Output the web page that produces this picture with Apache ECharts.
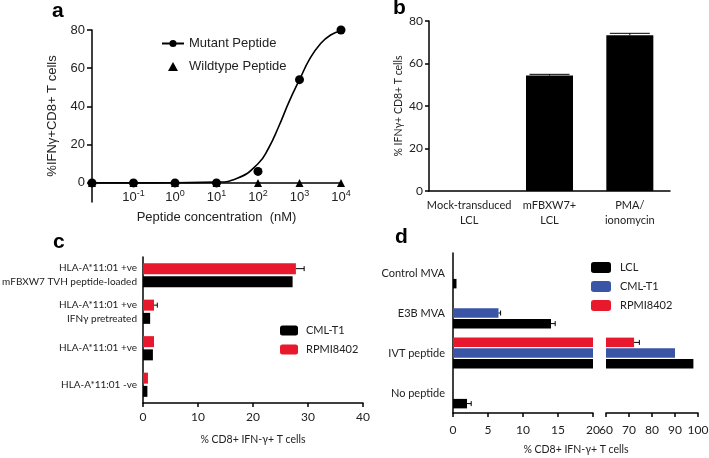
<!DOCTYPE html>
<html>
<head>
<meta charset="utf-8">
<script src="https://cdn.jsdelivr.net/npm/echarts@6/dist/echarts.min.js"></script>
<style>
  html, body { margin: 0; padding: 0; background: #fff; }
  #chart { width: 709px; height: 458px; }
</style>
</head>
<body>
<div id="chart"></div>
<script>
// ---- panel a: dose response ----
const aConc = [0.01, 0.1, 1, 10, 100, 1000, 10000];
const aMutant = [0, 0, 0, 0, 6, 54, 80];
const aWildtype = [0, 0, 0, 0, 0, 0, 0];
// fitted curve
const aFitConc = [0.01, 0.1, 1, 10, 31.6, 100, 178, 316, 562, 1000, 1778, 3162, 5623, 10000];
const aFitValue = [0, 0, 0.1, 0.4, 2.4, 10, 18, 29.5, 42.5, 54, 65, 72.7, 77.4, 79.5];

// ---- panel b ----
const bCats = ['Mock-transduced\nLCL', 'mFBXW7+\nLCL', 'PMA/\nionomycin'];
const bValues = [0, 54.3, 73.3];
const bErr = [0, 0.6, 0.9];

// ---- panel c (bottom to top) ----
const cCats = ['HLA-A*11:01 -ve', 'HLA-A*11:01 +ve', 'HLA-A*11:01 +ve\nIFNγ pretreated', 'HLA-A*11:01 +ve\nmFBXW7 TVH peptide-loaded'];
const cCML = [0.8, 1.8, 1.3, 27.2];
const cRPMI = [0.9, 2.0, 2.0, 27.8];
const cRPMIErr = [0, 0, 0.6, 1.5];

// ---- panel d (bottom to top) ----
const dCats = ['No peptide', 'IVT peptide', 'E3B MVA', 'Control MVA'];
const dLCL = [2.0, 98, 14, 0.5];
const dCML = [0, 90, 6.5, 0];
const dRPMI = [0, 72.2, 0, 0];
const dLCLErr = [0.6, 0, 0.6, 0];
const dCMLErr = [0, 0, 0.3, 0];
const dRPMIErr = [0, 2.3, 0, 0];

const RED = '#e8192c';
const BLUE = '#3a55a6';
const ARIAL = '"Liberation Sans", Arial, sans-serif';
const CALI = 'Lato, "Open Sans", sans-serif';

const chart = echarts.init(document.getElementById('chart'));

const lineStyle = { color: '#000', width: 1.5 };

function errData(vals, errs) {
  const out = [];
  vals.forEach((v, i) => { if (errs[i] > 0) out.push([i, v, v + errs[i]]); });
  return out;
}

// horizontal error bar, offset = shift from category centre
function hErrorBar(offset, cap) {
  return function (params, api) {
    const s = api.coord([api.value(1), api.value(0)]);
    const e = api.coord([api.value(2), api.value(0)]);
    const y = s[1] + offset;
    const st = { stroke: '#000', lineWidth: 1 };
    return {
      type: 'group',
      children: [
        { type: 'line', shape: { x1: s[0], y1: y, x2: e[0], y2: y }, style: st },
        { type: 'line', shape: { x1: e[0], y1: y - cap, x2: e[0], y2: y + cap }, style: st }
      ]
    };
  };
}

function vErrorBar(cap) {
  return function (params, api) {
    const s = api.coord([api.value(0), api.value(1)]);
    const e = api.coord([api.value(0), api.value(2)]);
    const st = { stroke: '#000', lineWidth: 1 };
    return {
      type: 'group',
      children: [
        { type: 'line', shape: { x1: s[0], y1: s[1], x2: e[0], y2: e[1] }, style: st },
        { type: 'line', shape: { x1: e[0] - cap, y1: e[1], x2: e[0] + cap, y2: e[1] }, style: st }
      ]
    };
  };
}

const option = {
  animation: false,
  backgroundColor: '#fff',
  graphic: [
    { type: 'text', left: 52, top: 1, style: { text: 'a', font: 'bold 21px ' + ARIAL, fill: '#000' } },
    { type: 'text', left: 393, top: -2, style: { text: 'b', font: 'bold 21px ' + ARIAL, fill: '#000' } },
    { type: 'text', left: 53, top: 232, style: { text: 'c', font: 'bold 21px ' + ARIAL, fill: '#000' } },
    { type: 'text', left: 395, top: 227, style: { text: 'd', font: 'bold 21px ' + ARIAL, fill: '#000' } },
    { type: 'text', x: 576, y: 450, style: { text: '% CD8+ IFN-γ+ T cells', font: '10.5px ' + CALI, fill: '#222', align: 'center', verticalAlign: 'middle' } }
  ],
  legend: [
    {
      left: 161, top: 37, padding: 0, orient: 'vertical', itemWidth: 22, itemHeight: 9, itemGap: 10,
      data: [
        { name: 'Mutant Peptide' },
        { name: 'Wildtype Peptide', icon: 'path://M5,0 L10,9 L0,9 Z' }
      ],
      textStyle: { fontFamily: ARIAL, fontSize: 13, color: '#222' }
    },
    {
      left: 280, top: 325, padding: 0, orient: 'vertical', itemWidth: 18, itemHeight: 10, itemGap: 8, icon: 'roundRect',
      data: [
        { name: 'CML-T1', itemStyle: { color: '#000' } },
        { name: 'RPMI8402', itemStyle: { color: RED } }
      ],
      textStyle: { fontFamily: CALI, fontSize: 11, color: '#222', padding: [0, 0, 0, 3] }
    },
    {
      left: 591, top: 262, padding: 0, orient: 'vertical', itemWidth: 20, itemHeight: 11, itemGap: 8, icon: 'roundRect',
      data: [
        { name: 'LCL', itemStyle: { color: '#000' } },
        { name: 'CML-T1', itemStyle: { color: BLUE } },
        { name: 'RPMI8402', itemStyle: { color: RED } }
      ],
      textStyle: { fontFamily: CALI, fontSize: 11, color: '#222', padding: [0, 0, 0, 4] }
    }
  ],
  grid: [
    { left: 92, top: 30, width: 249, height: 172, outerBoundsMode: 'none' },
    { left: 429, top: 21, width: 241, height: 170, outerBoundsMode: 'none' },
    { left: 143, top: 257, width: 220, height: 146, outerBoundsMode: 'none' },
    { left: 453, top: 253, width: 140, height: 160, outerBoundsMode: 'none' },
    { left: 606, top: 253, width: 92, height: 160, outerBoundsMode: 'none' }
  ],
  xAxis: [
    {
      gridIndex: 0, type: 'log', logBase: 10, min: 0.01, max: 10000,
      axisLine: { onZero: true, lineStyle },
      axisTick: { lineStyle, length: 4 },
      splitLine: { show: false },
      axisLabel: {
        margin: -13, color: '#222', fontFamily: ARIAL, fontSize: 13, lineHeight: 16,
        formatter: v => {
          const e = Math.round(Math.log10(v));
          return e === -2 ? '' : '10{s|' + e + '}';
        },
        rich: { s: { fontFamily: ARIAL, fontSize: 9, lineHeight: 9, verticalAlign: 'top' } }
      },
      name: 'Peptide concentration  (nM)', nameLocation: 'middle', nameGap: 9, nameMoveOverlap: false,
      nameTextStyle: { fontFamily: ARIAL, fontSize: 13, color: '#222' }
    },
    {
      gridIndex: 1, type: 'category', data: bCats,
      axisLine: { lineStyle }, axisTick: { alignWithLabel: true, lineStyle, length: 4 },
      axisLabel: { interval: 0, margin: 7, color: '#222', fontFamily: CALI, fontSize: 11, lineHeight: 15 }
    },
    {
      gridIndex: 2, type: 'value', min: 0, max: 40, interval: 10,
      axisLine: { show: true, lineStyle }, axisTick: { show: true, lineStyle, length: 4 },
      splitLine: { show: false },
      axisLabel: { margin: 8, color: '#222', fontFamily: CALI, fontSize: 12 },
      name: '% CD8+ IFN-γ+ T cells', nameLocation: 'middle', nameGap: 31, nameMoveOverlap: false,
      nameTextStyle: { fontFamily: CALI, fontSize: 10.5, color: '#222' }
    },
    {
      gridIndex: 3, type: 'value', min: 0, max: 20, interval: 5,
      axisLine: { show: true, onZero: false, lineStyle }, axisTick: { show: true, lineStyle, length: 4 },
      splitLine: { show: false },
      axisLabel: { margin: 11, color: '#222', fontFamily: CALI, fontSize: 12 }
    },
    {
      gridIndex: 4, type: 'value', min: 60, max: 100, interval: 10,
      axisLine: { show: true, onZero: false, lineStyle }, axisTick: { show: true, lineStyle, length: 4 },
      splitLine: { show: false },
      axisLabel: { margin: 11, color: '#222', fontFamily: CALI, fontSize: 12 }
    }
  ],
  yAxis: [
    {
      gridIndex: 0, type: 'value', min: -10, max: 80,
      axisLine: { show: true, lineStyle },
      axisTick: { show: true, lineStyle, length: 5, customValues: [0, 20, 40, 60, 80] },
      splitLine: { show: false },
      axisLabel: { margin: 7, color: '#222', fontFamily: ARIAL, fontSize: 13, customValues: [0, 20, 40, 60, 80] },
      name: '%IFNγ+CD8+ T cells', nameLocation: 'middle', nameGap: 33, nameMoveOverlap: false,
      nameTextStyle: { fontFamily: ARIAL, fontSize: 13, color: '#222' }
    },
    {
      gridIndex: 1, type: 'value', min: 0, max: 80, interval: 20,
      axisLine: { show: true, lineStyle }, axisTick: { show: true, lineStyle, length: 4 },
      splitLine: { show: false },
      axisLabel: { margin: 6, color: '#222', fontFamily: CALI, fontSize: 12 },
      name: '% IFNγ+ CD8+ T cells', nameLocation: 'middle', nameGap: 25, nameMoveOverlap: false,
      nameTextStyle: { fontFamily: CALI, fontSize: 10.5, color: '#222' }
    },
    {
      gridIndex: 2, type: 'category', data: cCats,
      axisLine: { lineStyle }, axisTick: { alignWithLabel: true, lineStyle, length: 4 },
      axisLabel: { interval: 0, margin: 6, color: '#222', fontFamily: CALI, fontSize: 10, lineHeight: 14 }
    },
    {
      gridIndex: 3, type: 'category', data: dCats,
      axisLine: { lineStyle }, axisTick: { alignWithLabel: true, lineStyle, length: 4 },
      axisLabel: { interval: 0, margin: 8, color: '#222', fontFamily: CALI, fontSize: 11 }
    },
    { gridIndex: 4, type: 'category', data: dCats, show: false }
  ],
  series: [
    // a
    {
      name: 'Wildtype Peptide', type: 'scatter', xAxisIndex: 0, yAxisIndex: 0,
      symbol: 'triangle', symbolSize: 8, itemStyle: { color: '#000', opacity: 1 },
      data: aConc.map((c, i) => [c, aWildtype[i]])
    },
    {
      name: 'Mutant Peptide', type: 'line', xAxisIndex: 0, yAxisIndex: 0,
      smooth: 0.5, showSymbol: false, symbol: 'circle', symbolSize: 9,
      itemStyle: { color: '#000' }, lineStyle: { color: '#000', width: 1.6 },
      data: aFitConc.map((c, i) => [c, aFitValue[i]])
    },
    {
      name: 'mutant points', type: 'scatter', xAxisIndex: 0, yAxisIndex: 0,
      symbol: 'circle', symbolSize: 9, itemStyle: { color: '#000', opacity: 1 },
      data: aConc.map((c, i) => [c, aMutant[i]])
    },
    // b
    {
      name: 'b', type: 'bar', xAxisIndex: 1, yAxisIndex: 1, barWidth: 47,
      itemStyle: { color: '#000' }, data: bValues
    },
    {
      type: 'custom', xAxisIndex: 1, yAxisIndex: 1, renderItem: vErrorBar(20),
      encode: { x: 0, y: [1, 2] }, data: errData(bValues, bErr), z: 5
    },
    // c  (first series is drawn on top)
    {
      name: 'RPMI8402', type: 'bar', xAxisIndex: 2, yAxisIndex: 2, barWidth: 11, barGap: '20%',
      itemStyle: { color: RED }, data: cRPMI
    },
    {
      name: 'CML-T1', type: 'bar', xAxisIndex: 2, yAxisIndex: 2, barWidth: 11, barGap: '20%',
      itemStyle: { color: '#000' }, data: cCML
    },
    {
      type: 'custom', xAxisIndex: 2, yAxisIndex: 2, renderItem: hErrorBar(-6.6, 2.5),
      encode: { x: [1, 2], y: 0 }, data: errData(cRPMI, cRPMIErr), z: 5
    },
    // d left
    {
      name: 'RPMI8402', type: 'bar', xAxisIndex: 3, yAxisIndex: 3, barWidth: 9.5, barGap: '12%',
      itemStyle: { color: RED }, data: dRPMI
    },
    {
      name: 'CML-T1', type: 'bar', xAxisIndex: 3, yAxisIndex: 3, barWidth: 9.5, barGap: '12%',
      itemStyle: { color: BLUE }, data: dCML
    },
    {
      name: 'LCL', type: 'bar', xAxisIndex: 3, yAxisIndex: 3, barWidth: 9.5, barGap: '12%',
      itemStyle: { color: '#000' }, data: dLCL
    },
    {
      type: 'custom', xAxisIndex: 3, yAxisIndex: 3, renderItem: hErrorBar(10.6, 2.5), clip: true,
      encode: { x: [1, 2], y: 0 }, data: errData(dLCL, dLCLErr), z: 5
    },
    {
      type: 'custom', xAxisIndex: 3, yAxisIndex: 3, renderItem: hErrorBar(0, 2.5), clip: true,
      encode: { x: [1, 2], y: 0 }, data: errData(dCML, dCMLErr), z: 5
    },
    // d right
    {
      name: 'RPMI8402', type: 'bar', xAxisIndex: 4, yAxisIndex: 4, barWidth: 9.5, barGap: '12%',
      itemStyle: { color: RED }, data: dRPMI
    },
    {
      name: 'CML-T1', type: 'bar', xAxisIndex: 4, yAxisIndex: 4, barWidth: 9.5, barGap: '12%',
      itemStyle: { color: BLUE }, data: dCML
    },
    {
      name: 'LCL', type: 'bar', xAxisIndex: 4, yAxisIndex: 4, barWidth: 9.5, barGap: '12%',
      itemStyle: { color: '#000' }, data: dLCL
    },
    {
      type: 'custom', xAxisIndex: 4, yAxisIndex: 4, renderItem: hErrorBar(-10.6, 2.5), clip: true,
      encode: { x: [1, 2], y: 0 }, data: errData(dRPMI, dRPMIErr), z: 5
    }
  ]
};

chart.setOption(option);
</script>
</body>
</html>
